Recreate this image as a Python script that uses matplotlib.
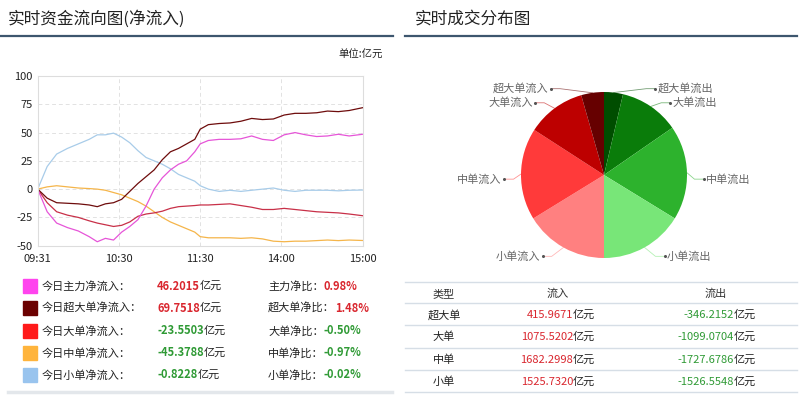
import matplotlib
matplotlib.use('Agg')
import matplotlib.pyplot as plt
import numpy as np

plt.rcParams['font.family'] = ['Noto Sans CJK SC', 'DejaVu Sans']

# ---- data: net inflow lines (minutes after 09:31, 亿元) ----
minutes = [0, 7, 14, 22, 30, 38, 44, 50, 56, 62, 68, 74, 80, 86, 92, 98, 104, 110, 116, 120,
           126, 134, 142, 150, 158, 166, 174, 182, 190, 198, 206, 214, 222, 230, 240]
main_flow = [0, -20, -30, -34, -37, -42, -46.5, -43.5, -45, -38, -33, -27, -15, 0, 10, 17, 22, 25, 33, 40,
             43, 44, 44, 44.5, 47, 44, 43, 48, 50, 48, 46.5, 47, 48.5, 47, 48.5]
super_flow = [0, -8, -12, -12.5, -13, -14, -15.5, -13, -12, -9, -2, 5, 11, 17, 26, 33, 36, 40, 44, 53,
              57, 58, 58.5, 60, 62.5, 61.5, 62, 65.5, 67, 67, 67.5, 69, 68.5, 69.5, 72]
large_flow = [0, -12, -20, -23, -25, -28, -30, -31.5, -33, -32, -29, -24, -22, -21, -19.5, -17, -15.5, -15, -14.5, -14,
              -14, -13.5, -13, -14.5, -16, -18, -18, -17, -18, -19, -20, -20.5, -21, -22, -23.5]
mid_flow = [0, 2, 3, 2, 1, 0.5, 0, -1, -3, -5, -8, -11, -15, -20, -25, -29, -32, -35, -38, -42,
            -43, -43, -43, -43.5, -43, -44, -46, -46.5, -46, -46, -45.5, -45, -45.5, -45, -45.4]
small_flow = [0, 20, 31, 36, 40, 44, 48, 48, 49.5, 46, 41, 34, 28, 25, 22, 18, 13, 10, 7, 3,
              0, -2, -1, -2, -1, 0, 1, -1, -2, -1, -1, -1, -1.5, -1, -0.8]
xtick_pos = [0, 60, 120, 180, 240]
xtick_labels = ['09:31', '10:30', '11:30', '14:00', '15:00']
yticks = [-50, -25, 0, 25, 50, 75, 100]

# ---- legend rows ----
flow_names = ['今日主力净流入：', '今日超大单净流入：', '今日大单净流入：', '今日中单净流入：', '今日小单净流入：']
flow_vals = ['46.2015', '69.7518', '-23.5503', '-45.3788', '-0.8228']
ratio_names = ['主力净比：', '超大单净比：', '大单净比：', '中单净比：', '小单净比：']
ratio_vals = ['0.98%', '1.48%', '-0.50%', '-0.97%', '-0.02%']

# ---- pie / table ----
pie_labels = ['超大单流出', '大单流出', '中单流出', '小单流出', '小单流入', '中单流入', '大单流入', '超大单流入']
pie_values = [346.2152, 1099.0704, 1727.6786, 1526.5548, 1525.7320, 1682.2998, 1075.5202, 415.9671]
table_types = ['超大单', '大单', '中单', '小单']
table_in = ['415.9671', '1075.5202', '1682.2998', '1525.7320']
table_out = ['-346.2152', '-1099.0704', '-1727.6786', '-1526.5548']

RED = '#d9262e'
GREEN = '#2f9a35'

fig = plt.figure(figsize=(8, 3.98), dpi=100)

# background axes in pixel coordinates
bg = fig.add_axes([0, 0, 1, 1])
bg.set_xlim(0, 800)
bg.set_ylim(398, 0)
bg.axis('off')

# headers
bg.text(8, 19, '实时资金流向图(净流入)', fontsize=12, va='center', ha='left', color='#222222')
bg.text(415, 19, '实时成交分布图', fontsize=12, va='center', ha='left', color='#222222')
bg.plot([0, 393], [36, 36], color='#3d566e', lw=1.6)
bg.plot([405, 797], [36, 36], color='#3d566e', lw=1.6)
bg.text(383, 55, '单位:亿元', fontsize=7.5, va='center', ha='right', color='#222222')

# ---- line chart ----
ax = fig.add_axes([37.7 / 800, 1 - 245.7 / 398, 325 / 800, 169.7 / 398])
series = [(main_flow, '#e655d8'), (super_flow, '#6e0c0c'), (large_flow, '#c83048'),
          (mid_flow, '#f5b54a'), (small_flow, '#a8cce9')]
for vals, c in series[::-1]:
    ax.plot(minutes, vals, color=c, lw=0.9)
ax.set_xlim(0, 240)
ax.set_ylim(-50, 100)
ax.set_xticks(xtick_pos)
ax.set_xticklabels(xtick_labels, fontsize=8)
ax.set_yticks(yticks)
ax.set_yticklabels([str(v) for v in yticks], fontsize=8)
ax.tick_params(length=0, colors='#222222')
ax.tick_params(axis='x', pad=6)
ax.tick_params(axis='y', pad=3.5)
ax.grid(True, color='#e2e2e2', lw=0.7, ls=(0, (4, 3)))
for s in ax.spines.values():
    s.set_color('#dddddd')
    s.set_linewidth(0.8)

# ---- legend block ----
square_colors = ['#ff44ee', '#6b0000', '#ff1a1a', '#ffb43c', '#99c4ee']
row_y = [286, 308, 331, 353, 375]
for i in range(5):
    y = row_y[i]
    bg.add_patch(plt.Rectangle((23, y - 7), 14, 14, color=square_colors[i]))
    bg.text(42, y, flow_names[i], fontsize=8, va='center', ha='left', color='#222222')
    c = RED if not flow_vals[i].startswith('-') else GREEN
    t1 = bg.text(157, y, flow_vals[i], fontsize=8, va='center', ha='left', color=c, fontweight='bold')
    bg.annotate('亿元', xy=(1, 0.5), xycoords=t1, va='center', ha='left', fontsize=8, color='#222222')
    t2 = bg.text(268, y, ratio_names[i], fontsize=8, va='center', ha='left', color='#222222')
    c2 = RED if not ratio_vals[i].startswith('-') else GREEN
    bg.annotate(ratio_vals[i], xy=(1, 0.5), xycoords=t2, va='center', ha='left', fontsize=8,
                color=c2, fontweight='bold')
bg.plot([8, 392], [392, 392], color='#e3e7eb', lw=2.5)

# ---- pie ----
cx, cy, r = 604, 175, 83
half = 130
axp = fig.add_axes([(cx - half) / 800, 1 - (cy + half) / 398, 2 * half / 800, 2 * half / 398])
axp.set_facecolor('none')
pie_colors = ['#004d00', '#0a7c0a', '#2db22d', '#78e678', '#ff8080', '#ff3a3a', '#bd0000', '#660000']
wedges, _ = axp.pie(pie_values, colors=pie_colors, startangle=90, counterclock=False, radius=1,
                    wedgeprops=dict(linewidth=0))
lim = half / r
axp.set_xlim(-lim, lim)
axp.set_ylim(-lim, lim)
axp.axis('off')

label_pos = [(0.65, 1.04), (0.83, 0.87), (1.23, -0.05), (0.76, -0.98),
             (-0.77, -0.98), (-1.23, -0.05), (-0.86, 0.87), (-0.67, 1.04)]
for w, lab, (tx, ty), c in zip(wedges, pie_labels, label_pos, pie_colors):
    mid = np.deg2rad((w.theta1 + w.theta2) / 2)
    ex, ey = np.cos(mid), np.sin(mid)
    sgn = 1 if tx > 0 else -1
    elbow_x = tx - sgn * 0.14
    axp.plot([ex, elbow_x, tx - sgn * 0.03], [ey, ty, ty], color=c, lw=0.6, alpha=0.55,
             solid_capstyle='round')
    axp.plot([tx - sgn * 0.03], [ty], 'o', color='#555555', ms=1.2)
    axp.text(tx, ty, lab, fontsize=8, color='#666666', va='center',
             ha='left' if sgn > 0 else 'right')

# ---- table ----
line_c = '#d6dee6'
for y in [282, 303, 325, 348, 370, 392]:
    bg.plot([405, 797], [y, y], color=line_c, lw=1)
bg.text(444, 294, '类型', fontsize=8, ha='center', va='center', color='#333333')
bg.text(558, 294, '流入', fontsize=8, ha='center', va='center', color='#333333')
bg.text(716, 294, '流出', fontsize=8, ha='center', va='center', color='#333333')
row_ty = [315, 337, 360, 382]
for i in range(4):
    y = row_ty[i]
    bg.text(444, y, table_types[i], fontsize=8, ha='center', va='center', color='#222222')
    t = bg.text(573, y, table_in[i], fontsize=8, ha='right', va='center', color=RED)
    bg.annotate('亿元', xy=(1, 0.5), xycoords=t, va='center', ha='left', fontsize=8, color='#222222')
    t = bg.text(734, y, table_out[i], fontsize=8, ha='right', va='center', color=GREEN)
    bg.annotate('亿元', xy=(1, 0.5), xycoords=t, va='center', ha='left', fontsize=8, color='#222222')

fig.savefig('out.png', dpi=100)
